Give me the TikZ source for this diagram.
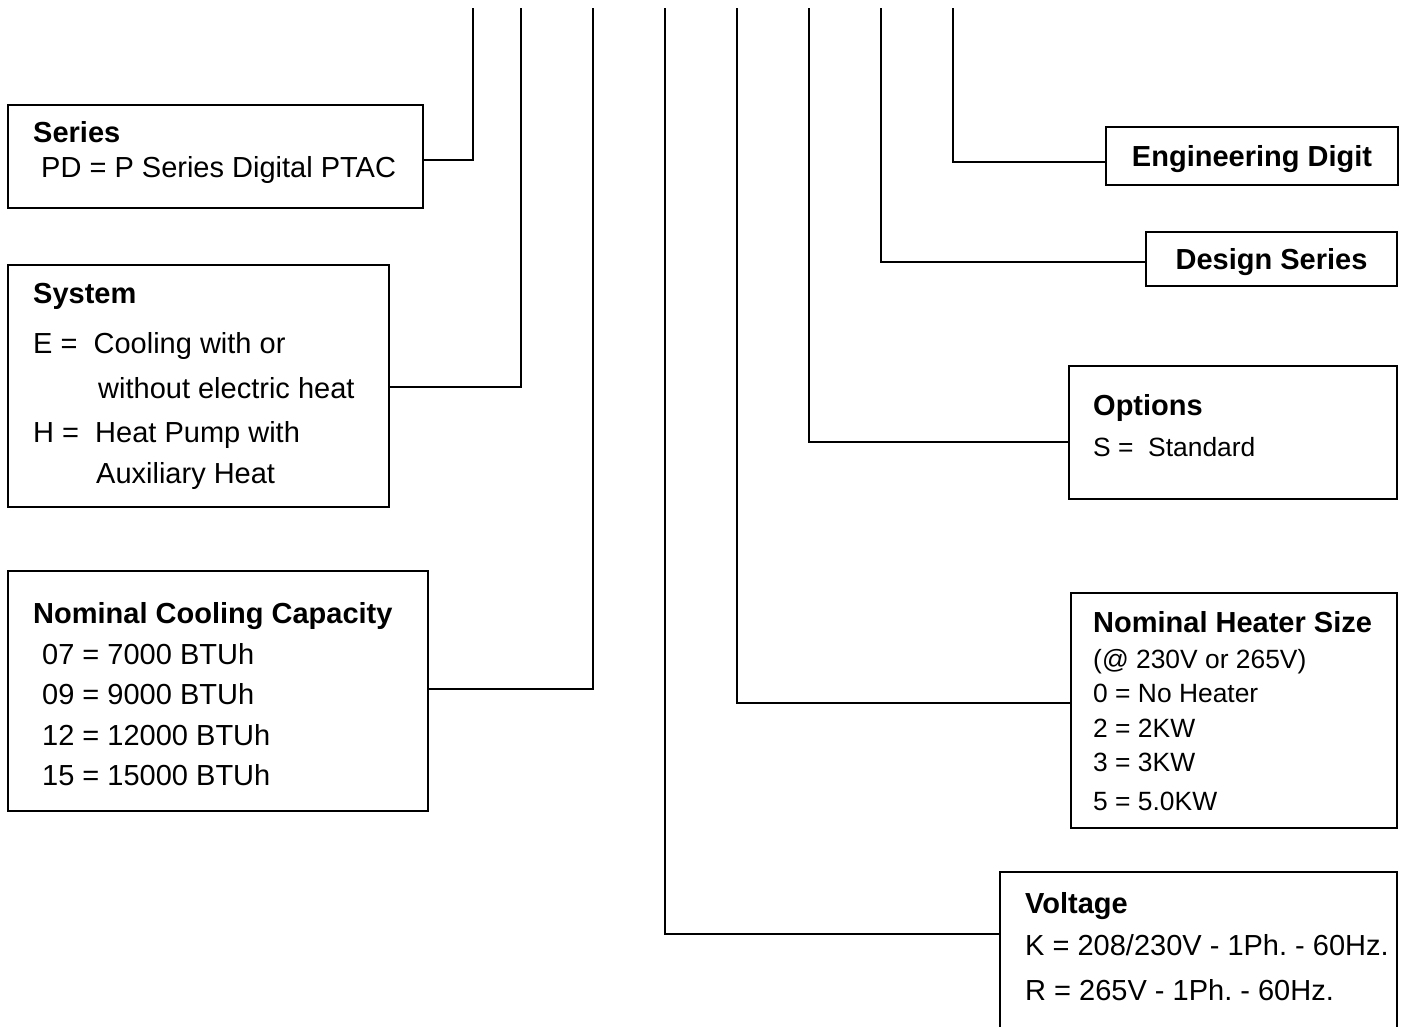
\documentclass[tikz,border=0pt]{standalone}
\usepackage{fontspec}
\setmainfont{Liberation Sans}
\frenchspacing
\begin{document}
\begin{tikzpicture}[x=1pt,y=-1pt,
  box/.style={draw, line width=2pt, inner sep=0pt, outer sep=0pt, anchor=north west},
  conn/.style={line width=2pt, line cap=rect},
  ttl/.style={anchor=base west, inner sep=0pt, font=\fontsize{29}{34}\selectfont\bfseries},
  txt/.style={anchor=base west, inner sep=0pt, font=\fontsize{29}{34}\selectfont},
  stxt/.style={anchor=base west, inner sep=0pt, font=\fontsize{26.4}{31}\selectfont}]
\useasboundingbox (0,0) rectangle (1405,1026);
\clip (0,0) rectangle (1405,1026);
% top ends of the code lines
\coordinate (t1) at (473,9);
\coordinate (t2) at (521,9);
\coordinate (t3) at (593,9);
\coordinate (t4) at (665,9);
\coordinate (t5) at (737,9);
\coordinate (t6) at (809,9);
\coordinate (t7) at (881,9);
\coordinate (t8) at (953,9);
% boxes
\node[box, minimum width=415, minimum height=103] (series) at (8,105) {};
\node[box, minimum width=381, minimum height=242] (system) at (8,265) {};
\node[box, minimum width=420, minimum height=240] (cool) at (8,571) {};
\node[box, minimum width=397, minimum height=200] (volt) at (1000,872) {};
\node[box, minimum width=326, minimum height=235] (heat) at (1071,593) {};
\node[box, minimum width=328, minimum height=133] (opt) at (1069,366) {};
\node[box, minimum width=251, minimum height=54, text depth=0pt, font=\fontsize{29}{34}\selectfont\bfseries] (design) at (1146,232) {Design Series};
\node[box, minimum width=292, minimum height=58, text depth=0pt, font=\fontsize{29}{34}\selectfont\bfseries] (eng) at (1106,127) {Engineering Digit};
% texts
\node[ttl] (seriesT) at (33,142) {Series};
\node[txt] (seriesA) at (41,177) {PD = P Series Digital PTAC};
\node[ttl] (systemT) at (33,303) {System};
\node[txt] (systemA) at (33,353) {E =\ \ Cooling with or};
\node[txt] (systemB) at (98,398) {without electric heat};
\node[txt] (systemC) at (33,442) {H =\ \ Heat Pump with};
\node[txt] (systemD) at (96,483) {Auxiliary Heat};
\node[ttl] (coolT) at (33,623) {Nominal Cooling Capacity};
\node[txt] (coolA) at (42,664) {07 = 7000 BTUh};
\node[txt] (coolB) at (42,704) {09 = 9000 BTUh};
\node[txt] (coolC) at (42,745) {12 = 12000 BTUh};
\node[txt] (coolD) at (42,785) {15 = 15000 BTUh};
\node[ttl] (optT) at (1093,415) {Options};
\node[stxt] (optA) at (1093,456) {S =\ \ Standard};
\node[ttl] (heatT) at (1093,632) {Nominal Heater Size};
\node[stxt] (heatA) at (1093,668) {(@ 230V or 265V)};
\node[stxt] (heatB) at (1093,702) {0 = No Heater};
\node[stxt] (heatC) at (1093,737) {2 = 2KW};
\node[stxt] (heatD) at (1093,771) {3 = 3KW};
\node[stxt] (heatE) at (1093,810) {5 = 5.0KW};
\node[ttl] (voltT) at (1025,913) {Voltage};
\node[txt] (voltA) at (1025,955) {K = 208/230V - 1Ph. - 60Hz.};
\node[txt] (voltB) at (1025,1000) {R = 265V - 1Ph. - 60Hz.};
% connectors
\draw[conn] ([yshift=-3.5pt]series.east) -| (t1);
\draw[conn] ([yshift=-1pt]system.east) -| (t2);
\draw[conn] ([yshift=2pt]cool.east) -| (t3);
\draw[conn] ([yshift=-62pt]volt.north west) -| (t4);
\draw[conn] ([yshift=8pt]heat.west) -| (t5);
\draw[conn] ([yshift=-9pt]opt.west) -| (t6);
\draw[conn] ([yshift=-2.5pt]design.west) -| (t7);
\draw[conn] ([yshift=-6pt]eng.west) -| (t8);
\end{tikzpicture}
\end{document}
